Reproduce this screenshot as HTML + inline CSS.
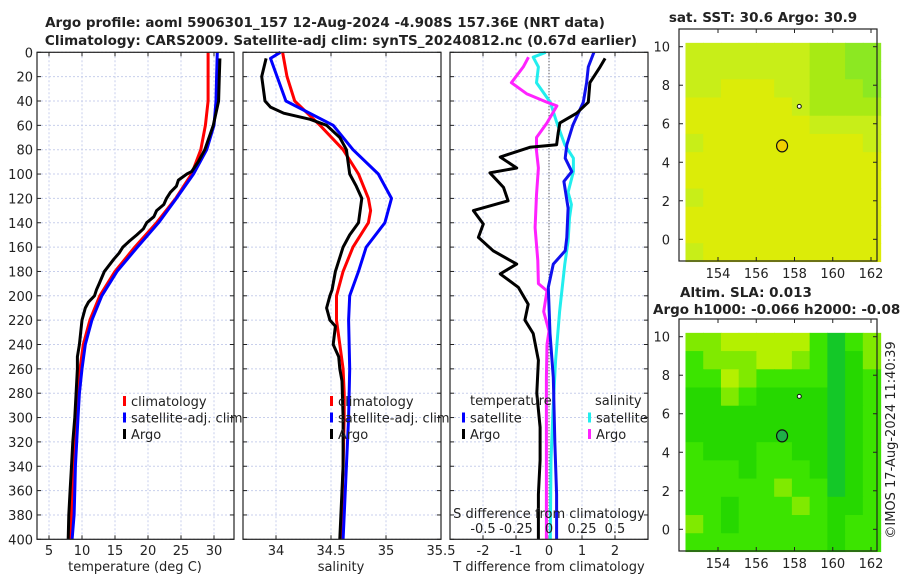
<!DOCTYPE html>
<html><head><meta charset="utf-8"><style>
body{margin:0;background:#fff;width:900px;height:580px;overflow:hidden}
svg{display:block;font-family:"DejaVu Sans","Liberation Sans",sans-serif}
</style></head><body>
<svg id="fig" width="900" height="580" viewBox="0 0 900 580"></svg>
<script>
// ---- data ----
const depthTicks = [0,20,40,60,80,100,120,140,160,180,200,220,240,260,280,300,320,340,360,380,400];
const tempTicks = [5,10,15,20,25,30];
const salTicks = [34,34.5,35,35.5];
const salTickLabels = ["34","34.5","35","35.5"];
const dTTicks = [-2,-1,0,1,2];
const dSTickVals = [-0.5,-0.25,0,0.25,0.5];
const dSTickLabels = ["-0.5","-0.25","0","0.25","0.5"];

const tClimDepth = [0,40,60,80,100,120,140,160,180,200,220,240,260,280,300,320,340,360,380,400];
const tClimVal   = [29.1,29.1,28.7,28.0,26.6,24.2,21.3,18.0,15.0,12.7,11.2,10.2,9.7,9.3,9.1,8.9,8.7,8.5,8.4,8.2];
const tSatDepth  = [0,20,40,60,80,100,120,140,160,180,200,220,240,260,280,300,320,340,360,380,400];
const tSatVal    = [30.5,30.4,30.3,30.0,28.9,26.9,24.3,21.6,18.4,15.3,13.0,11.5,10.5,10.0,9.6,9.4,9.2,9.0,8.9,8.8,8.5];
const tArgoDepth = [5,20,40,60,80,90,98,100,105,110,115,120,125,130,135,140,145,150,155,160,165,170,180,190,195,200,205,210,220,240,250,260,280,300,320,340,360,380,400];
const tArgoVal   = [30.9,30.8,30.7,29.9,28.6,27.6,26.6,25.9,24.6,24.3,23.4,22.8,22.4,21.3,20.9,19.8,19.3,18.3,17.2,16.2,15.6,14.8,13.4,12.6,12.2,11.9,11.0,10.5,10.0,9.6,9.3,9.3,9.1,8.9,8.6,8.4,8.2,8.0,7.9];

const sClimDepth = [0,20,40,60,80,100,120,130,140,160,180,200,220,240,260,280,300,340,400];
const sClimVal   = [34.06,34.10,34.17,34.40,34.61,34.75,34.84,34.86,34.84,34.70,34.61,34.55,34.55,34.58,34.61,34.62,34.62,34.61,34.59];
const sSatDepth  = [0,5,20,40,60,80,100,120,140,160,180,200,220,260,300,340,400];
const sSatVal    = [34.04,33.95,34.01,34.09,34.52,34.70,34.93,35.05,34.99,34.82,34.75,34.67,34.66,34.67,34.66,34.64,34.61];
const sArgoDepth = [5,20,40,45,50,55,60,70,80,100,110,120,140,150,160,180,195,200,210,220,225,240,250,260,270,300,340,380,400];
const sArgoVal   = [33.91,33.87,33.90,33.95,34.07,34.31,34.46,34.58,34.64,34.67,34.73,34.78,34.75,34.67,34.61,34.54,34.51,34.49,34.46,34.49,34.54,34.52,34.57,34.58,34.60,34.61,34.61,34.59,34.58];

const dTArgoDepth = [5,12,25,41,50,58,66,76,78,86,95,99,111,122,130,141,152,163,174,182,193,207,220,231,253,280,308,335,363,400];
const dTArgoVal   = [1.7,1.55,1.24,1.19,0.84,0.33,0.28,0.23,-0.58,-1.48,-0.98,-1.79,-1.38,-1.24,-2.29,-1.99,-2.14,-1.69,-0.98,-1.48,-0.93,-0.63,-0.73,-0.48,-0.32,-0.37,-0.27,-0.27,-0.32,-0.32];
const dTSatDepth  = [0,12,25,41,60,76,87,98,106,128,152,163,174,193,231,267,322,363,400];
const dTSatVal    = [1.36,1.19,1.14,1.04,0.72,0.54,0.49,0.69,0.45,0.58,0.54,0.49,0.13,-0.02,0.03,0.13,0.18,0.23,0.23];
const dSSatDepth  = [0,4,12,25,41,58,76,87,98,115,125,136,155,174,213,253,294,335,400];
const dSSatVal    = [-0.025,-0.12,-0.08,-0.095,0.01,0.06,0.12,0.185,0.185,0.145,0.17,0.155,0.145,0.12,0.08,0.05,0.03,0.015,0.01];
const dSArgoDepth = [4,12,25,34,41,44,58,70,81,95,117,144,171,190,196,213,229,240,267,308,400];
const dSArgoVal   = [-0.155,-0.195,-0.285,-0.17,-0.015,0.06,-0.015,-0.095,-0.095,-0.08,-0.095,-0.105,-0.085,-0.08,-0.015,-0.04,0.0,-0.015,-0.02,-0.02,-0.02];

// map grids (levels), rows from lat 10 down to lat -1, cols lon 152.3..162.5
const sstGrid = [
 [1,1,1,1,1,1,1,2,2,3,3],[1,1,1,1,1,1,1,2,2,3,3],[1,1,0,0,0,1,1,2,2,2,3],
 [0,0,0,0,0,0,1,2,2,2,2],[0,0,0,0,0,0,0,1,1,1,1],[1,0,0,0,0,0,0,0,0,0,1],
 [0,0,0,0,0,0,0,0,0,0,0],[0,0,0,0,0,0,0,0,0,0,0],[1,0,0,0,0,0,0,0,0,0,0],
 [0,0,0,0,0,0,0,0,0,0,0],[0,0,0,0,0,0,0,0,0,0,0],[1,0,0,0,0,0,0,0,0,0,0]];
const sstColors = ["#dcec08","#c8ee18","#a8ea14","#8ce822"];
const slaGrid = [
 [1,1,0,0,0,0,0,2,4,2,1],[2,1,1,1,0,0,1,2,4,3,1],[2,2,0,1,2,2,2,2,4,3,2],
 [3,3,1,2,3,3,3,3,4,3,2],[3,3,3,3,3,3,3,3,4,3,2],[3,3,3,3,3,3,3,3,4,3,2],
 [2,3,3,3,2,2,3,3,4,3,2],[2,2,2,3,2,2,2,3,4,3,2],[2,2,2,2,2,1,2,2,4,3,2],
 [2,2,3,2,2,2,1,2,3,3,2],[1,2,3,2,2,2,2,2,3,2,2],[2,2,2,2,2,2,2,2,3,2,2]];
const slaColors = ["#b4f000","#80ea00","#3ce400","#26d800","#14c828"];
const mapLonTicks = [154,156,158,160,162];
const mapLatTicks = [0,2,4,6,8,10];
const argoLon = 157.35, argoLat = 4.85;

// ---- drawing ----
const NS="http://www.w3.org/2000/svg";
const svg=document.getElementById('fig');
function mk(tag,attrs,parent){const e=document.createElementNS(NS,tag);for(const k in attrs)e.setAttribute(k,attrs[k]);(parent||svg).appendChild(e);return e;}
function txt(x,y,s,size,anchor,weight,parent){const t=mk('text',{x:x,y:y,'font-size':size,'text-anchor':anchor||'start','font-weight':weight||'normal',fill:'#222'},parent);t.textContent=s;return t;}

const Y0=52.3,Y1=539.3;
const yD=d=>Y0+(d/400)*(Y1-Y0);
const panels=[
 {name:'temperature-panel',x0:37,x1:234,v0:3.18,v1:33.03},
 {name:'salinity-panel',x0:243,x1:441,v0:33.7,v1:35.5},
 {name:'difference-panel',x0:450,x1:648,v0:-3,v1:3}];
const px=(p,v)=>p.x0+(v-p.v0)/(p.v1-p.v0)*(p.x1-p.x0);
const S_SCALE=4; // 0.5 salinity units = 2 temperature units on the difference panel

let t;
t=txt(325,27,'Argo profile: aoml 5906301_157 12-Aug-2024 -4.908S 157.36E (NRT data)',13.5,'middle','bold');

t=txt(341,45,'Climatology: CARS2009. Satellite-adj clim: synTS_20240812.nc (0.67d earlier)',13.5,'middle','bold');


function panelFrame(p,xticks,xlabels){
  const g=mk('g',{});
  
  
  depthTicks.forEach(d=>{
    mk('line',{x1:p.x0,x2:p.x1,y1:yD(d),y2:yD(d),stroke:'#c8cfec','stroke-width':1,'stroke-dasharray':'2,2'},g);
    mk('line',{x1:p.x0,x2:p.x0+4,y1:yD(d),y2:yD(d),stroke:'#222'},g);
    mk('line',{x1:p.x1-4,x2:p.x1,y1:yD(d),y2:yD(d),stroke:'#222'},g);
  });
  xticks.forEach((v,i)=>{
    const x=px(p,v);
    if(x>p.x0+1&&x<p.x1-1){
      mk('line',{x1:x,x2:x,y1:Y0,y2:Y1,stroke:'#c8cfec','stroke-width':1,'stroke-dasharray':'2,2'},g);
      mk('line',{x1:x,x2:x,y1:Y1-4,y2:Y1,stroke:'#222'},g);
      mk('line',{x1:x,x2:x,y1:Y0,y2:Y0+4,stroke:'#222'},g);
    }
    const l=txt(x,555,xlabels[i],13,'middle','normal',g);
    
    
  });
  return g;
}
function frameBorder(p,g){mk('rect',{x:p.x0,y:Y0,width:p.x1-p.x0,height:Y1-Y0,fill:'none',stroke:'#222','stroke-width':1.2},g);}
function line(p,ds,vs,color,w,name,g,scale){
  const pts=ds.map((d,i)=>px(p,vs[i]*(scale||1)).toFixed(1)+','+yD(d).toFixed(1)).join(' ');
  const e=mk('polyline',{points:pts,fill:'none',stroke:color,'stroke-width':w,'stroke-linejoin':'round'},g);
  
  
}
function legend(x,y,color,label,g){
  mk('rect',{x:x,y:y-10,width:3,height:10,fill:color},g);
  const l=txt(x+8,y,label,13,'start','normal',g);
  
  
}

depthTicks.forEach(d=>{const l=txt(33,yD(d)+5,String(d),13,'end');});

let p=panels[0];let g=panelFrame(p,tempTicks,tempTicks.map(String));
line(p,tClimDepth,tClimVal,'#ff0000',3,'temp-climatology-line',g);
line(p,tSatDepth,tSatVal,'#0000ff',3,'temp-satellite-line',g);
line(p,tArgoDepth,tArgoVal,'#000',3,'temp-argo-line',g);
frameBorder(p,g);
legend(123,406,'#ff0000','climatology',g);legend(123,422.5,'#0000ff','satellite-adj. clim',g);legend(123,439,'#000','Argo',g);
t=txt(135,571,'temperature (deg C)',13,'middle');

p=panels[1];g=panelFrame(p,salTicks,salTickLabels);
line(p,sClimDepth,sClimVal,'#ff0000',3,'sal-climatology-line',g);
line(p,sSatDepth,sSatVal,'#0000ff',3,'sal-satellite-line',g);
line(p,sArgoDepth,sArgoVal,'#000',3,'sal-argo-line',g);
frameBorder(p,g);
legend(330,406,'#ff0000','climatology',g);legend(330,422.5,'#0000ff','satellite-adj. clim',g);legend(330,439,'#000','Argo',g);
t=txt(341,571,'salinity',13,'middle');

p=panels[2];g=panelFrame(p,dTTicks,dTTicks.map(String));
mk('line',{x1:px(p,0),x2:px(p,0),y1:Y0,y2:Y1,stroke:'#333','stroke-width':1,'stroke-dasharray':'1,2'},g);
line(p,dSSatDepth,dSSatVal,'#22eeee',3,'sal-diff-satellite-line',g,S_SCALE);
line(p,dSArgoDepth,dSArgoVal,'#ff22ff',3,'sal-diff-argo-line',g,S_SCALE);
line(p,dTSatDepth,dTSatVal,'#1010ee',3,'temp-diff-satellite-line',g);
line(p,dTArgoDepth,dTArgoVal,'#000',3,'temp-diff-argo-line',g);
frameBorder(p,g);
t=txt(470,405,'temperature',13,'start','normal',g);
t=txt(595,405,'salinity',13,'start','normal',g);
legend(462,422.5,'#0000ff','satellite',g);legend(462,439,'#000','Argo',g);
legend(588,422.5,'#22eeee','satellite',g);legend(588,439,'#ff22ff','Argo',g);
t=txt(549,518,'S difference from climatology',13,'middle','normal',g);
dSTickVals.forEach((v,i)=>{const l=txt(px(p,v*S_SCALE),533,dSTickLabels[i],13,'middle','normal',g);});
t=txt(549,571,'T difference from climatology',13,'middle');

function drawMap(name,top,bot,latTop10,lat0,grid,colors,circleFill){
  const mg=mk('g',{});
  
  
  const X0=679,X1=877;
  const lonX=lon=>718+(lon-154)*(871-718)/8;
  const latY=lat=>lat0+(lat)*(latTop10-lat0)/10;
  const rows=grid.length,cols=grid[0].length;
  const lonA=152.3,lonB=162.5,latA=10.2,latB=-1.15;
  for(let r=0;r<rows;r++)for(let c=0;c<cols;c++){
    const la1=latA-(latA-latB)*r/rows,la2=latA-(latA-latB)*(r+1)/rows;
    const lo1=lonA+(lonB-lonA)*c/cols,lo2=lonA+(lonB-lonA)*(c+1)/cols;
    const cell=mk('rect',{x:lonX(lo1),y:latY(la1),width:lonX(lo2)-lonX(lo1)+0.6,height:latY(la2)-latY(la1)+0.6,fill:colors[grid[r][c]]},mg);
    
    
  }
  mk('rect',{x:X0,y:top,width:X1-X0,height:bot-top,fill:'none',stroke:'#222','stroke-width':1.2},mg);
  mapLatTicks.forEach(v=>{const y=latY(v);
    mk('line',{x1:X0,x2:X0+4,y1:y,y2:y,stroke:'#222'},mg);mk('line',{x1:X1-4,x2:X1,y1:y,y2:y,stroke:'#222'},mg);
    const l=txt(670,y+5,String(v),13,'end','normal',mg);});
  mapLonTicks.forEach(v=>{const x=lonX(v);
    mk('line',{x1:x,x2:x,y1:bot-4,y2:bot,stroke:'#222'},mg);mk('line',{x1:x,x2:x,y1:top,y2:top+4,stroke:'#222'},mg);
    const l=txt(x,bot+17,String(v),13,'middle','normal',mg);});
  const c=mk('ellipse',{cx:lonX(argoLon),cy:latY(argoLat),rx:5.5,ry:6,fill:circleFill,stroke:'#111','stroke-width':1.2},mg);
  
  
  mk('circle',{cx:lonX(158.25),cy:latY(6.9),r:2,fill:'#fff',stroke:'#111','stroke-width':1},mg);
}
drawMap('sst-map',29,261,46.7,239.3,sstGrid,sstColors,'#f0d000');
drawMap('sla-map',319,551,336.7,529.3,slaGrid,slaColors,'#1fb048');
t=txt(763,22,'sat. SST: 30.6 Argo: 30.9',13.5,'middle','bold');
t=txt(680,297,'Altim. SLA: 0.013',13.5,'start','bold');
t=txt(653,314,'Argo h1000: -0.066 h2000: -0.081',13.5,'start','bold');
t=txt(0,0,'©IMOS 17-Aug-2024 11:40:39',13,'middle');
t.setAttribute('transform','translate(895,440) rotate(-90)');

</script>
</body></html>
